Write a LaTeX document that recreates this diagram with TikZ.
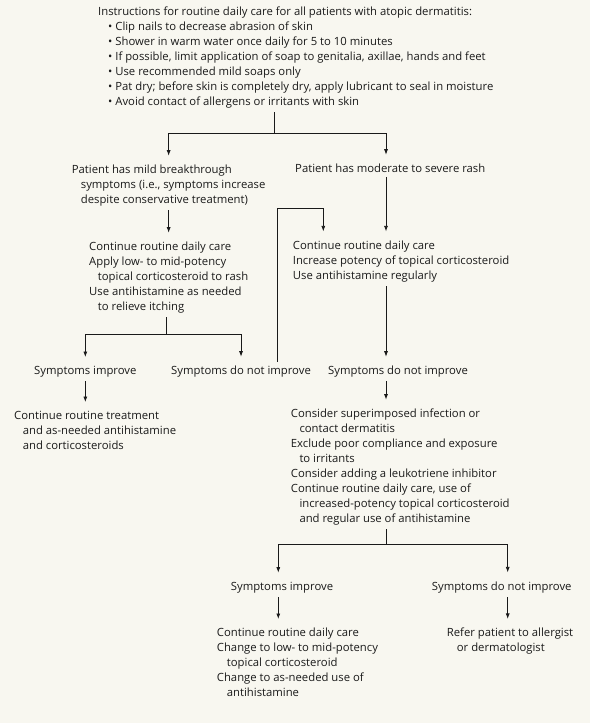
\documentclass[tikz,border=0pt]{standalone}
\usepackage{fontspec}
\setmainfont{Open Sans}
\usetikzlibrary{arrows.meta, calc, positioning}
\definecolor{paper}{HTML}{F8F7F0}
\definecolor{ink}{HTML}{1A1A1A}

\begin{document}
\begin{tikzpicture}[x=1pt, y=-1pt, >={Latex[length=5.5pt,width=4pt]},
  font=\fontsize{11.3}{15}\selectfont, color=ink,
  txt/.style={anchor=base west, align=left, inner xsep=0pt, inner ysep=4pt},
  arr/.style={->, line width=0.8pt, shorten >=5pt},
  ln/.style={line width=0.8pt}]
\fill[paper] (0,0) rectangle (590,723);
\useasboundingbox (0,0) rectangle (590,723);

% text blocks (placed at the baseline of their last line)
\node[txt] (routine) at (98,105.2) {Instructions for routine daily care for all patients with atopic dermatitis:\\
  \hspace*{10pt}\textbullet\ Clip nails to decrease abrasion of skin\\
  \hspace*{10pt}\textbullet\ Shower in warm water once daily for 5 to 10 minutes\\
  \hspace*{10pt}\textbullet\ If possible, limit application of soap to genitalia, axillae, hands and feet\\
  \hspace*{10pt}\textbullet\ Use recommended mild soaps only\\
  \hspace*{10pt}\textbullet\ Pat dry; before skin is completely dry, apply lubricant to seal in moisture\\
  \hspace*{10pt}\textbullet\ Avoid contact of allergens or irritants with skin};
\node[txt] (mild) at (71.7,203.5) {Patient has mild breakthrough\\
  \hspace*{9pt}symptoms (i.e., symptoms increase\\
  \hspace*{9pt}despite conservative treatment)};
\node[txt] (moderate) at (295,172.5) {Patient has moderate to severe rash};
\node[txt] (contL) at (89,310.5) {Continue routine daily care\\
  Apply low- to mid-potency\\
  \hspace*{8.7pt}topical corticosteroid to rash\\
  Use antihistamine as needed\\
  \hspace*{8.7pt}to relieve itching};
\node[txt] (contR) at (292.7,279.2) {Continue routine daily care\\
  Increase potency of topical corticosteroid\\
  Use antihistamine regularly};
\node[txt] (leftImp) at (34,374.5) {Symptoms improve};
\node[txt] (midNo) at (171,374.5) {Symptoms do not improve};
\node[txt] (rightNo) at (328,374.5) {Symptoms do not improve};
\node[txt] (treat) at (14,449.5) {Continue routine treatment\\
  \hspace*{8.6pt}and as-needed antihistamine\\
  \hspace*{8.6pt}and corticosteroids};
\node[txt] (consider) at (290.7,522.5) {Consider superimposed infection or\\
  \hspace*{8.6pt}contact dermatitis\\
  Exclude poor compliance and exposure\\
  \hspace*{8.6pt}to irritants\\
  Consider adding a leukotriene inhibitor\\
  Continue routine daily care, use of\\
  \hspace*{8.6pt}increased-potency topical corticosteroid\\
  \hspace*{8.6pt}and regular use of antihistamine};
\node[txt] (botImp) at (230.7,590.2) {Symptoms improve};
\node[txt] (botNo) at (431.7,590.2) {Symptoms do not improve};
\node[txt] (change) at (216.7,696.8) {Continue routine daily care\\
  Change to low- to mid-potency\\
  \hspace*{10pt}topical corticosteroid\\
  Change to as-needed use of\\
  \hspace*{10pt}antihistamine};
\node[txt] (refer) at (446.7,651.8) {Refer patient to allergist\\
  \hspace*{10pt}or dermatologist};

% junctions
\coordinate (j1) at (274,133);
\coordinate (j2) at (166.7,334.3);
\coordinate (j3) at (386,544);
\coordinate (jl) at (278.3,544);
\coordinate (jr) at (507.7,544);
\coordinate (lp) at (277.8,208.7);
\coordinate (lq) at (323.3,208.7);

% connectors
\draw[ln] (routine.south -| j1) -- (j1);
\draw[arr] (j1) -| (mild.north);
\draw[arr] (j1) -| (moderate.north -| j3);
\draw[arr] (mild) -- (mild |- contL.north);
\draw[arr] (moderate.south -| j3) -- (contR.north -| j3);
\draw[arr] (midNo.north -| lp) -- (lp) -- (lq) -- (lq |- contR.north);
\draw[ln] (contL.south -| j2) -- (j2);
\draw[arr] (j2) -| (leftImp.north);
\draw[arr] (j2) -| (midNo.north);
\draw[arr] (contR.south -| j3) -- (rightNo.north -| j3);
\draw[arr] (leftImp) -- (leftImp |- treat.north);
\draw[arr] (rightNo.south -| j3) -- (consider.north -| j3);
\draw[ln] (consider.south -| j3) -- (j3);
\draw[ln] (jl) -- (jr);
\draw[arr] (jl) -- (botImp.north -| jl);
\draw[arr] (jr) -- (botNo.north -| jr);
\draw[arr] (botImp.south -| jl) -- (change.north -| jl);
\draw[arr] (botNo.south -| jr) -- (refer.north -| jr);
\end{tikzpicture}
\end{document}
